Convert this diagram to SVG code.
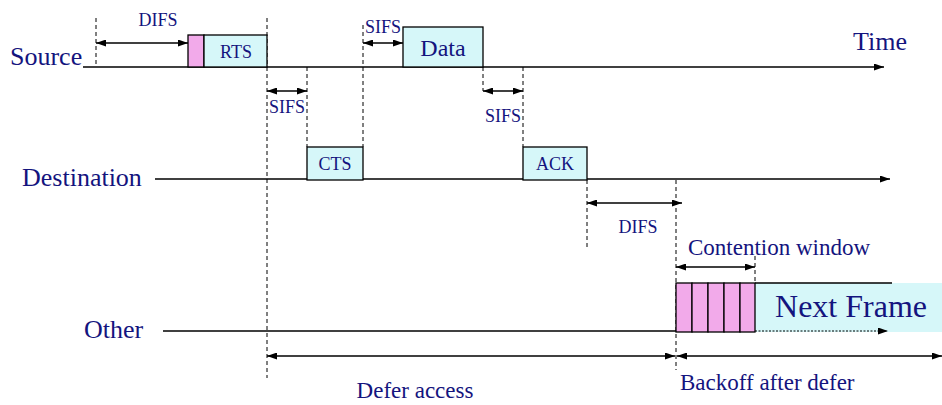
<svg xmlns="http://www.w3.org/2000/svg" width="942" height="405" viewBox="0 0 942 405">
<style>
.big{font-size:26px}
.sm{font-size:18px}
.md{font-size:23px}
.ax{stroke:#000;stroke-width:1.5;fill:none}
.dash{stroke:#000;stroke-width:1;stroke-dasharray:4,3;fill:none}
.arr{stroke:#000;stroke-width:1.3;fill:none}
.cy{fill:#d6f7f9;stroke:#000;stroke-width:1.3}
.pk{fill:#f2aaea;stroke:#000;stroke-width:1.3}
</style>
<defs>
<marker id="ah" viewBox="0 0 10 7" refX="10" refY="3.5" markerWidth="12" markerHeight="7" markerUnits="userSpaceOnUse" orient="auto-start-reverse">
<path d="M0,0 L10,3.5 L0,7 z" fill="#000"/>
</marker>
</defs>
<rect width="942" height="405" fill="#fff"/>
<g id="nextframe-bg">
<rect x="755" y="283" width="187" height="49" fill="#d6f7f9"/>
</g>
<g id="connectors">
<line class="ax" x1="83" y1="67" x2="884" y2="67" marker-end="url(#ah)"/>
<line class="ax" x1="155" y1="179" x2="890" y2="179" marker-end="url(#ah)"/>
<line class="ax" x1="163" y1="331" x2="676" y2="331"/>
<line x1="755" y1="331" x2="888" y2="331" stroke="#000" stroke-width="1" stroke-dasharray="2,1.5" marker-end="url(#ah)"/>
<line class="ax" x1="755" y1="283" x2="892" y2="283"/>
<line class="dash" x1="96" y1="18" x2="96" y2="67"/>
<line class="dash" x1="267" y1="18" x2="267" y2="378"/>
<line class="dash" x1="307" y1="67" x2="307" y2="147"/>
<line class="dash" x1="363" y1="25" x2="363" y2="147"/>
<line class="dash" x1="483" y1="67" x2="483" y2="91"/>
<line class="dash" x1="523" y1="67" x2="523" y2="147"/>
<line class="dash" x1="587" y1="180" x2="587" y2="247"/>
<line class="dash" x1="676" y1="180" x2="676" y2="370"/>
<line class="dash" x1="755" y1="256" x2="755" y2="283"/>
<line class="arr" x1="96" y1="43" x2="188" y2="43" marker-start="url(#ah)" marker-end="url(#ah)"/>
<line class="arr" x1="267" y1="91" x2="307" y2="91" marker-start="url(#ah)" marker-end="url(#ah)"/>
<line class="arr" x1="363" y1="43" x2="403" y2="43" marker-start="url(#ah)" marker-end="url(#ah)"/>
<line class="arr" x1="483" y1="91" x2="523" y2="91" marker-start="url(#ah)" marker-end="url(#ah)"/>
<line class="arr" x1="587" y1="203" x2="682" y2="203" marker-start="url(#ah)" marker-end="url(#ah)"/>
<line class="arr" x1="676" y1="267" x2="755" y2="267" marker-start="url(#ah)" marker-end="url(#ah)"/>
<line class="arr" x1="267" y1="356" x2="675" y2="356" marker-start="url(#ah)" marker-end="url(#ah)"/>
<line class="arr" x1="677" y1="356" x2="942" y2="356" marker-start="url(#ah)" marker-end="url(#ah)"/>
</g>
<g id="source-label"><text class="big" font-family="'Liberation Serif', serif" fill="#14147e" x="10" y="65">Source</text></g>
<g id="time-label"><text class="big" font-family="'Liberation Serif', serif" fill="#14147e" x="853" y="50">Time</text></g>
<g id="destination-label"><text class="big" font-family="'Liberation Serif', serif" fill="#14147e" x="22" y="186">Destination</text></g>
<g id="other-label"><text class="big" font-family="'Liberation Serif', serif" fill="#14147e" x="84" y="338">Other</text></g>
<g id="difs1"><text class="sm" font-family="'Liberation Serif', serif" fill="#14147e" x="158" y="26" text-anchor="middle">DIFS</text></g>
<g id="rts">
<rect class="pk" x="188" y="35" width="16" height="32"/>
<rect class="cy" x="204" y="35" width="63" height="32"/>
<text class="sm" font-family="'Liberation Serif', serif" fill="#14147e" x="236" y="58" text-anchor="middle">RTS</text>
</g>
<g id="sifs1"><text class="sm" font-family="'Liberation Serif', serif" fill="#14147e" x="287" y="113" text-anchor="middle">SIFS</text></g>
<g id="sifs2"><text class="sm" font-family="'Liberation Serif', serif" fill="#14147e" x="383" y="33" text-anchor="middle">SIFS</text></g>
<g id="data">
<rect class="cy" x="403" y="27" width="80" height="40"/>
<text font-size="24" font-family="'Liberation Serif', serif" fill="#14147e" x="443" y="56" text-anchor="middle">Data</text>
</g>
<g id="sifs3"><text class="sm" font-family="'Liberation Serif', serif" fill="#14147e" x="503" y="122" text-anchor="middle">SIFS</text></g>
<g id="cts">
<rect class="cy" x="307" y="147" width="56" height="33"/>
<text class="sm" font-family="'Liberation Serif', serif" fill="#14147e" x="335" y="170" text-anchor="middle">CTS</text>
</g>
<g id="ack">
<rect class="cy" x="523" y="147" width="64" height="33"/>
<text class="sm" font-family="'Liberation Serif', serif" fill="#14147e" x="555" y="170" text-anchor="middle">ACK</text>
</g>
<g id="difs2"><text class="sm" font-family="'Liberation Serif', serif" fill="#14147e" x="638" y="233" text-anchor="middle">DIFS</text></g>
<g id="contention-label"><text class="md" font-family="'Liberation Serif', serif" fill="#14147e" x="688" y="255">Contention window</text></g>
<g id="backoff-slots">
<rect class="pk" x="676" y="283" width="16" height="49"/>
<rect class="pk" x="692" y="283" width="16" height="49"/>
<rect class="pk" x="708" y="283" width="16" height="49"/>
<rect class="pk" x="724" y="283" width="16" height="49"/>
<rect class="pk" x="740" y="283" width="15" height="49"/>
</g>
<g id="next-frame"><text font-size="32" font-family="'Liberation Serif', serif" fill="#14147e" x="851" y="317" text-anchor="middle">Next Frame</text></g>
<g id="defer-label"><text class="md" font-family="'Liberation Serif', serif" fill="#14147e" x="415" y="398" text-anchor="middle">Defer access</text></g>
<g id="backoff-label"><text class="md" font-family="'Liberation Serif', serif" fill="#14147e" x="680" y="390">Backoff after defer</text></g>
</svg>
